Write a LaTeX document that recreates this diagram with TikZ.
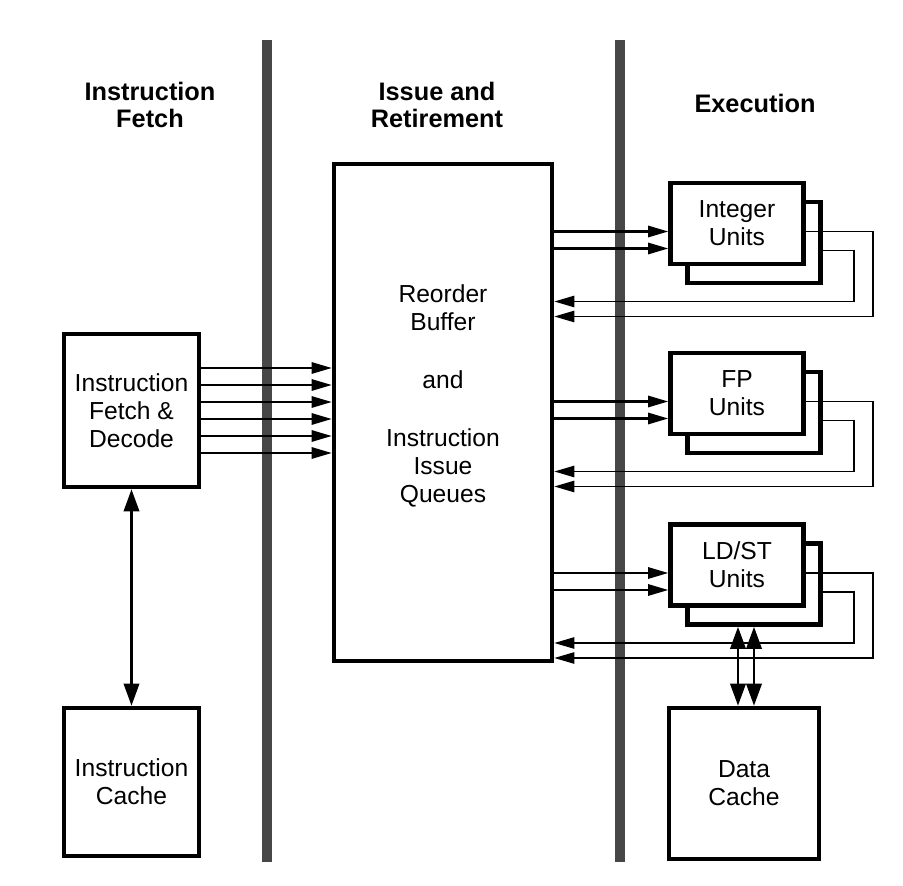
\documentclass[tikz,border=0pt]{standalone}
\usepackage{fontspec}
\setmainfont{Liberation Sans}
\usepackage{tikz}
\usetikzlibrary{arrows.meta,calc,positioning}
\newcommand{\pxu}{0.025cm}

\tikzset{
  blk/.style={draw,line width=3.2pt,fill=white,inner sep=2pt,align=center,
    font=\fontsize{17.5}{20}\selectfont},
  unit/.style={blk,minimum width=133*\pxu,minimum height=81*\pxu},
  head/.style={align=center,font=\fontsize{18}{19}\selectfont\bfseries},
  divider/.style={line width=0.27cm,black!72},
  feed/.style={line width=1.5pt,-{Triangle[length=0.5cm,width=0.28cm]}},
  ret/.style={line width=1.3pt,-{Triangle[length=0.5cm,width=0.28cm]}},
  bus/.style={line width=2pt,{Triangle[length=0.55cm,width=0.38cm]}-{Triangle[length=0.55cm,width=0.38cm]}}
}

\begin{document}
\begin{tikzpicture}[x=\pxu,y=-\pxu]
  \useasboundingbox (0,0) rectangle (903,886);
  \fill[white] (0,0) rectangle (903,886);
  % stage dividers
  \draw[divider] (267,40) -- (267,862);
  \draw[divider] (620,40) -- (620,862);
  % stage titles
  \node[head] (hfetch) at (150,105) {Instruction\\Fetch};
  \node[head] (hissue) at (437,105) {Issue and\\Retirement};
  \node[head] (hexec) at (755,103) {Execution};
  % front end
  \node[blk,minimum width=135*\pxu,minimum height=153*\pxu] (ifd) at (131.5,410.5) {Instruction\\Fetch \&\\Decode};
  \node[blk,minimum width=135*\pxu,minimum height=148*\pxu] (icache) at (131.5,782) {Instruction\\Cache};
  \draw[bus] (ifd.south) -- (icache.north);
  % reorder buffer
  \node[blk,minimum width=218*\pxu,minimum height=497*\pxu] (rob) at (443,412.5) {};
  \node[align=center,font=\fontsize{17.5}{20}\selectfont] (robtxt) at (443,396) {Reorder\\Buffer\\[21pt]and\\[21pt]Instruction\\Issue\\Queues};
  \foreach \k in {0,...,5}{
    \coordinate (f\k) at ($(ifd.east)+(0,-42.5+17*\k)$);
    \draw[feed] (f\k) -- (rob.west |- f\k);
  }
  % execution units
  \foreach \u/\lab/\y in {intu/{Integer\\Units}/223.5,fpu/{FP\\Units}/393.5,lsu/{LD/ST\\Units}/565}{
    \node[unit] (\u-bk) at (754,\y+19) {};
    \node[unit] (\u) at (737,\y) {\lab};
    \coordinate (\u-a) at ($(\u.west)+(0,8)$);
    \coordinate (\u-b) at ($(\u.west)+(0,25)$);
    \draw[feed] (rob.east |- \u-a) -- (\u-a);
    \draw[feed] (rob.east |- \u-b) -- (\u-b);
    \draw[ret] ($(\u.east)+(0,8)$) -- ++(67,0) -- ++(0,85) coordinate (\u-c) -- (rob.east |- \u-c);
    \draw[ret] ($(\u-bk.east)+(0,8)$) -- ++(31,0) -- ++(0,51) coordinate (\u-d) -- (rob.east |- \u-d);
  }
  % data cache
  \node[blk,minimum width=150*\pxu,minimum height=151*\pxu] (dcache) at (744,783.5) {Data\\Cache};
  \coordinate (ls1) at ($(lsu-bk.south)+(-16,0)$);
  \coordinate (ls2) at (lsu-bk.south);
  \draw[bus] (ls1) -- (ls1 |- dcache.north);
  \draw[bus] (ls2) -- (ls2 |- dcache.north);
\end{tikzpicture}
\end{document}
